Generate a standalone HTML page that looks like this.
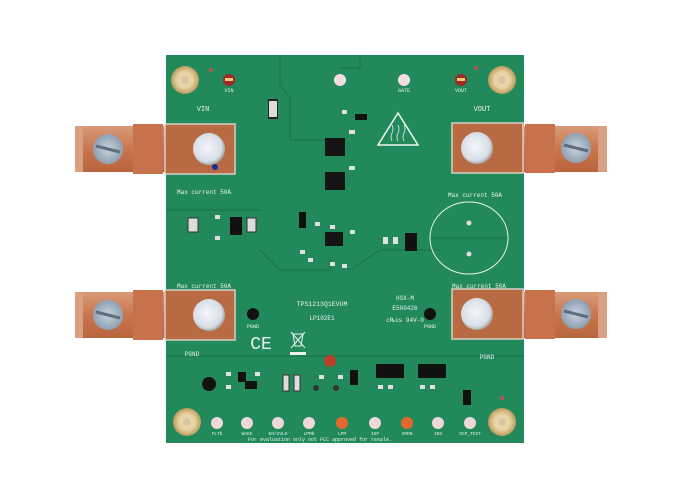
<!DOCTYPE html>
<html><head><style>
html,body{margin:0;padding:0;background:#fff;}
svg{display:block}
text{font-family:"Liberation Mono",monospace;fill:#e8f2ec;}
</style></head><body>
<svg width="700" height="500" viewBox="0 0 700 500" xmlns="http://www.w3.org/2000/svg">
<defs>
<radialGradient id="hole" cx="50%" cy="50%" r="50%"><stop offset="0" stop-color="#efe3c8"/><stop offset="0.6" stop-color="#e6cf9c"/><stop offset="1" stop-color="#b79b5e"/></radialGradient>
<radialGradient id="stud" cx="45%" cy="45%" r="55%"><stop offset="0" stop-color="#f4f6fa"/><stop offset="0.8" stop-color="#d8dde6"/><stop offset="1" stop-color="#a8a8a8"/></radialGradient>
<radialGradient id="screw" cx="50%" cy="50%" r="50%"><stop offset="0" stop-color="#c9d3de"/><stop offset="1" stop-color="#8fa0b2"/></radialGradient>
<linearGradient id="cu" x1="0" y1="0" x2="0" y2="1"><stop offset="0" stop-color="#d99a78"/><stop offset="0.5" stop-color="#c9764f"/><stop offset="1" stop-color="#b8653f"/></linearGradient>
</defs>
<rect x="166" y="55" width="358" height="388" fill="#22895a"/>
<g stroke="#1b7a4d" stroke-width="1.5" fill="none">
<path d="M280 55 L280 85 L290 98 L290 140 L330 140"/>
<path d="M360 55 L360 68 M360 68 L340 68"/>
<path d="M166 210 L260 210"/>
<path d="M260 250 L280 270 L330 270 L330 258"/>
<path d="M350 270 L380 250 L440 250"/>
<path d="M166 356 L524 356"/>
<path d="M430 238 L508 238"/>
</g>
<g fill="url(#hole)"><circle cx="185" cy="80" r="14"/><circle cx="502" cy="80" r="14"/><circle cx="187" cy="422" r="14"/><circle cx="502" cy="422" r="14"/></g>
<g fill="#d9c7a0"><circle cx="185" cy="80" r="4"/><circle cx="502" cy="80" r="4"/><circle cx="187" cy="422" r="4"/><circle cx="502" cy="422" r="4"/></g>
<circle cx="229" cy="80" r="6" fill="#a3262a"/><rect x="225" y="78" width="8" height="3" fill="#e8d070"/>
<circle cx="461" cy="80" r="6" fill="#a3262a"/><rect x="457" y="78" width="8" height="3" fill="#e8d070"/>
<circle cx="340" cy="80" r="6" fill="#f2dede"/><circle cx="404" cy="80" r="6" fill="#f2dede"/>
<circle cx="211" cy="70" r="2" fill="#c05050"/><circle cx="476" cy="68" r="2" fill="#c05050"/>
<text x="229" y="92" font-size="5" text-anchor="middle">VIN</text>
<text x="461" y="92" font-size="5" text-anchor="middle">VOUT</text>
<text x="404" y="92" font-size="5" text-anchor="middle">GATE</text>
<text x="203" y="111" font-size="7" text-anchor="middle">VIN</text>
<text x="482" y="111" font-size="7" text-anchor="middle">VOUT</text>
<rect x="268" y="99" width="10" height="20" fill="#222"/><rect x="269" y="101" width="8" height="16" fill="#ddd"/>
<rect x="355" y="114" width="12" height="6" fill="#111"/>
<rect x="325" y="138" width="20" height="18" fill="#151515"/>
<rect x="325" y="172" width="20" height="18" fill="#151515"/>
<g fill="#e0e0e0"><rect x="349" y="130" width="6" height="4"/><rect x="349" y="166" width="6" height="4"/><rect x="342" y="110" width="5" height="4"/></g>
<path d="M398 113 L378 145 L418 145 Z" fill="none" stroke="#eef5f0" stroke-width="1.5"/>
<path d="M392 125 q2 4 0 8 q-2 4 0 8 M398 125 q2 4 0 8 q-2 4 0 8 M404 125 q2 4 0 8 q-2 4 0 8" stroke="#eef5f0" fill="none" stroke-width="0.8"/>
<text x="177" y="194" font-size="6">Max current 50A</text>
<text x="448" y="197" font-size="6">Max current 50A</text>
<text x="177" y="288" font-size="6">Max current 50A</text>
<text x="452" y="288" font-size="6">Max current 50A</text>
<rect x="188" y="218" width="10" height="14" fill="#ddd" stroke="#333"/>
<rect x="230" y="217" width="12" height="18" fill="#111"/>
<rect x="247" y="218" width="9" height="14" fill="#ddd" stroke="#333"/>
<rect x="215" y="215" width="5" height="4" fill="#ddd"/><rect x="215" y="236" width="5" height="4" fill="#ddd"/>
<rect x="299" y="212" width="7" height="16" fill="#111"/>
<rect x="325" y="232" width="18" height="14" fill="#151515"/>
<g fill="#e0e0e0"><rect x="315" y="222" width="5" height="4"/><rect x="330" y="225" width="5" height="4"/><rect x="350" y="230" width="5" height="4"/><rect x="300" y="250" width="5" height="4"/><rect x="308" y="258" width="5" height="4"/><rect x="330" y="262" width="5" height="4"/><rect x="342" y="264" width="5" height="4"/></g>
<rect x="383" y="237" width="5" height="7" fill="#e0e0e0"/><rect x="393" y="237" width="5" height="7" fill="#e0e0e0"/>
<rect x="405" y="233" width="12" height="18" fill="#111"/>
<ellipse cx="469" cy="238" rx="39" ry="36" fill="none" stroke="#eef5f0" stroke-width="1"/>
<circle cx="469" cy="223" r="2.5" fill="#ddd"/><circle cx="469" cy="254" r="2.5" fill="#ddd"/>
<text x="322" y="306" font-size="6.5" text-anchor="middle">TPS1213Q1EVUM</text>
<text x="322" y="320" font-size="6" text-anchor="middle">LP102E1</text>
<text x="405" y="300" font-size="6" text-anchor="middle">HSX-M</text>
<text x="405" y="310" font-size="6" text-anchor="middle">E500426</text>
<text x="405" y="322" font-size="6" text-anchor="middle">c℞us 94V-0</text>
<circle cx="253" cy="314" r="6" fill="#111"/><circle cx="430" cy="314" r="6" fill="#111"/>
<text x="253" y="328" font-size="5" text-anchor="middle">PGND</text>
<text x="430" y="328" font-size="5" text-anchor="middle">PGND</text>
<text x="261" y="349" font-size="18" font-family="Liberation Sans" text-anchor="middle">CE</text>
<path d="M293 334 l10 0 -2 12 -6 0z M291 332 l14 16 M305 332 l-14 16" stroke="#e8f2ec" fill="none" stroke-width="1"/>
<rect x="290" y="352" width="16" height="3" fill="#eee"/>
<text x="192" y="356" font-size="6" text-anchor="middle">PGND</text>
<text x="487" y="359" font-size="6" text-anchor="middle">PGND</text>
<circle cx="330" cy="361" r="6" fill="#b8402d"/>
<circle cx="209" cy="384" r="7" fill="#111"/>
<rect x="238" y="372" width="8" height="10" fill="#111"/><rect x="245" y="381" width="12" height="8" fill="#111"/>
<rect x="283" y="375" width="6" height="16" fill="#ddd" stroke="#333"/><rect x="294" y="375" width="6" height="16" fill="#ddd" stroke="#333"/>
<rect x="350" y="370" width="8" height="15" fill="#111"/>
<rect x="376" y="364" width="28" height="14" fill="#111"/>
<rect x="418" y="364" width="28" height="14" fill="#111"/>
<rect x="463" y="390" width="8" height="15" fill="#111"/>
<g fill="#e0e0e0"><rect x="226" y="372" width="5" height="4"/><rect x="226" y="385" width="5" height="4"/><rect x="255" y="372" width="5" height="4"/><rect x="319" y="375" width="5" height="4"/><rect x="338" y="375" width="5" height="4"/><rect x="378" y="385" width="5" height="4"/><rect x="388" y="385" width="5" height="4"/><rect x="420" y="385" width="5" height="4"/><rect x="430" y="385" width="5" height="4"/></g>
<g fill="#333"><circle cx="316" cy="388" r="3"/><circle cx="336" cy="388" r="3"/></g>
<g fill="#f0d8d8">
<circle cx="217" cy="423" r="6"/><circle cx="247" cy="423" r="6"/><circle cx="278" cy="423" r="6"/><circle cx="309" cy="423" r="6"/><circle cx="375" cy="423" r="6"/><circle cx="438" cy="423" r="6"/><circle cx="470" cy="423" r="6"/></g>
<g fill="#e06a2e"><circle cx="342" cy="423" r="6"/><circle cx="407" cy="423" r="6"/></g>
<g font-size="4.5" text-anchor="middle">
<text x="217" y="435">FLTb</text><text x="247" y="435">WAKE</text><text x="278" y="435">EN/UVLO</text><text x="309" y="435">LPMb</text><text x="342" y="435">LPM</text><text x="375" y="435">ISP</text><text x="407" y="435">IMON</text><text x="438" y="435">INS</text><text x="470" y="435">SCP_TEST</text>
</g>
<text x="320" y="441" font-size="5" text-anchor="middle">For evaluation only not FCC approved for resale.</text>
<circle cx="502" cy="398" r="2" fill="#c05050"/>
<g id="lugL">
<rect x="75" y="126" width="160" height="46" fill="url(#cu)"/>
<rect x="75" y="126" width="8" height="46" fill="#d8a080"/>
<rect x="133" y="124" width="30" height="50" fill="#c7724c"/>
<rect x="165" y="124" width="70" height="50" fill="#b86a43" stroke="#d8d0c8" stroke-width="1.5"/>
<circle cx="108" cy="149" r="15" fill="url(#screw)"/>
<path d="M96 146 L120 152" stroke="#5e6e80" stroke-width="3"/>
<circle cx="209" cy="149" r="16" fill="url(#stud)"/>
</g>
<use href="#lugL" transform="translate(0,166)"/>
<g id="lugR">
<rect x="452" y="126" width="155" height="46" fill="url(#cu)"/>
<rect x="598" y="126" width="9" height="46" fill="#d8a080"/>
<rect x="452" y="123" width="71" height="50" fill="#b86a43" stroke="#d8d0c8" stroke-width="1.5"/>
<rect x="525" y="124" width="30" height="49" fill="#c7724c"/>
<circle cx="477" cy="148" r="16" fill="url(#stud)"/>
<circle cx="576" cy="148" r="15" fill="url(#screw)"/>
<path d="M564 145 L588 151" stroke="#5e6e80" stroke-width="3"/>
</g>
<use href="#lugR" transform="translate(0,166)"/>
<circle cx="215" cy="167" r="3" fill="#1a2c9a"/>
</svg>
</body></html>
